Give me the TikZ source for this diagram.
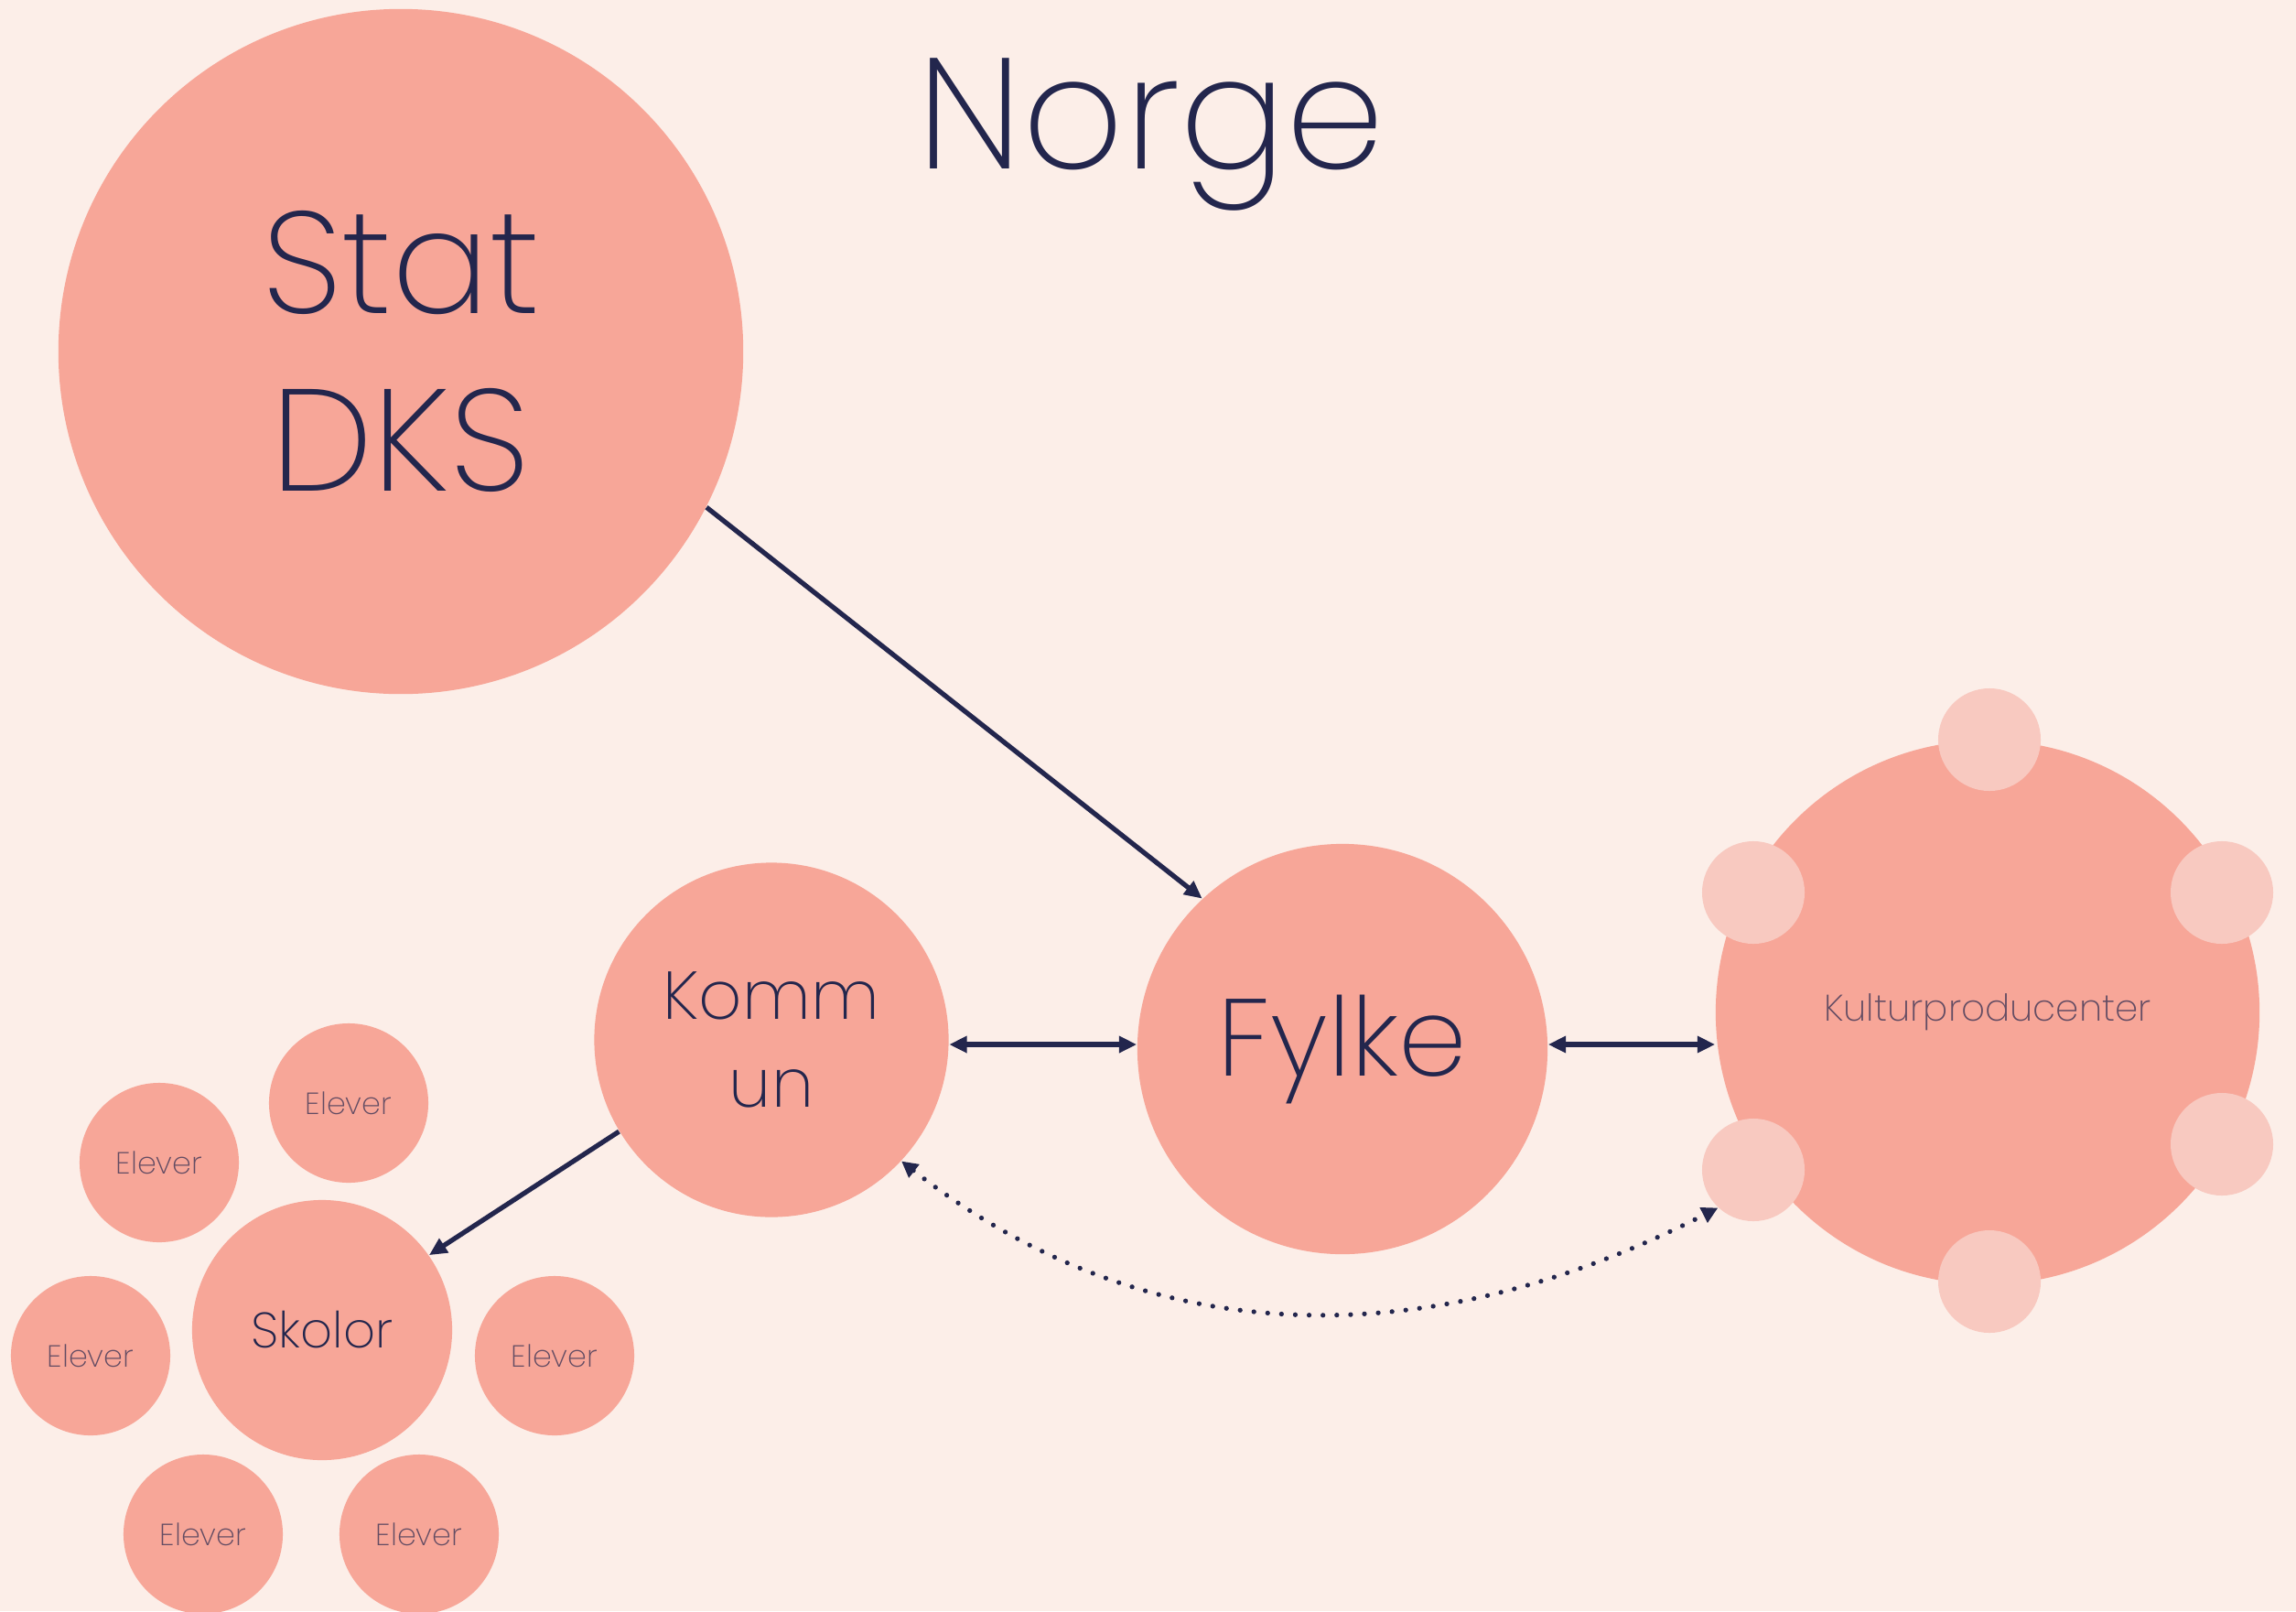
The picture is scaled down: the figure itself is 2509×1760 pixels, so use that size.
\documentclass[tikz,border=0pt]{standalone}
\usepackage{fontspec}
\setmainfont{Poppins}[UprightFont=* ExtraLight]
\usetikzlibrary{arrows.meta,positioning}
\definecolor{paper}{HTML}{FCEEE8}
\definecolor{salmon}{HTML}{F7A698}
\definecolor{blush}{HTML}{F8C9C0}
\definecolor{ink}{HTML}{23264D}
\colorlet{softink}{ink!70!salmon}

\begin{document}
\begin{tikzpicture}[x=0.01cm, y=0.01cm,
  bubble/.style={circle, fill=salmon, text=ink, align=center},
  bead/.style={circle, fill=blush, minimum size=1.12cm},
  elevbox/.style={bubble, minimum size=1.74cm, text=softink, font=\fontsize{9.5}{11}\selectfont},
  arrowline/.style={ink, line width=1.5pt, -{Triangle[length=5.5pt,width=5pt]}},
  twoway/.style={arrowline, {Triangle[length=5.5pt,width=5pt]}-{Triangle[length=5.5pt,width=5pt]}}
]
\tikzstyle{every node}+=[inner sep=0pt]
\fill [paper] (0,0) rectangle (2509,-1760);
\useasboundingbox (0,0) rectangle (2509,-1760);

\node [font=\fontsize{49}{55}\selectfont, text=ink, anchor=base] (title) at (1258,-184) {Norge};

% main circles
\node [bubble, minimum size=7.48cm, font=\fontsize{45}{55}\selectfont] (stat) at (438,-384) {Stat\\DKS};
\node [bubble, minimum size=4.48cm, font=\fontsize{34}{40}\selectfont] (fylke) at (1467,-1146) {Fylke};
\node [bubble, minimum size=3.87cm, font=\fontsize{21}{27.3}\selectfont] (kommun) at (843,-1136) {Komm\\un};
\node [bubble, minimum size=5.94cm, text=softink, font=\fontsize{11.5}{14}\selectfont] (kultur) at (2172,-1106) {Kulturproducenter};

% small circles round the kulturproducenter
\node [bead] (kp1) at (2174,-808) {};
\node [bead] (kp2) at (2428,-975) {};
\node [bead] (kp3) at (2428,-1250) {};
\node [bead] (kp4) at (1916,-1278) {};
\node [bead] (kp5) at (1916,-975) {};
\node [bead] (kp6) at (2174,-1400) {};

% skolor and elever
\node [bubble, minimum size=2.84cm, font=\fontsize{15.5}{18}\selectfont] (skolor) at (352,-1453) {Skolor};
\node [elevbox] (elev1) at (381,-1205) {Elever};
\node [elevbox] (elev2) at (174,-1270) {Elever};
\node [elevbox] (elev3) at (99,-1481) {Elever};
\node [elevbox] (elev4) at (606,-1481) {Elever};
\node [elevbox] (elev5) at (222,-1676) {Elever};
\node [elevbox] (elev6) at (458,-1676) {Elever};

% connectors
\draw [arrowline] (stat.-27) -- (fylke.133);
\draw [twoway] ([yshift=-0.05cm]kommun.east) -- ([yshift=-0.05cm]kommun.east -| fylke.west);
\draw [twoway] ([yshift=0.05cm]fylke.east) -- ([yshift=0.05cm]fylke.east -| kultur.west);
\draw [arrowline] (kommun.211) -- (skolor.35);
\draw [ink, line width=1.5pt, line cap=round, dash pattern=on 0pt off 4.3pt,
  {Triangle[length=5pt,width=5pt]}-{Triangle[length=5pt,width=5pt]}]
  (kommun.-43) to[out=-38, in=-153] (kp4.227);
\end{tikzpicture}
\end{document}
